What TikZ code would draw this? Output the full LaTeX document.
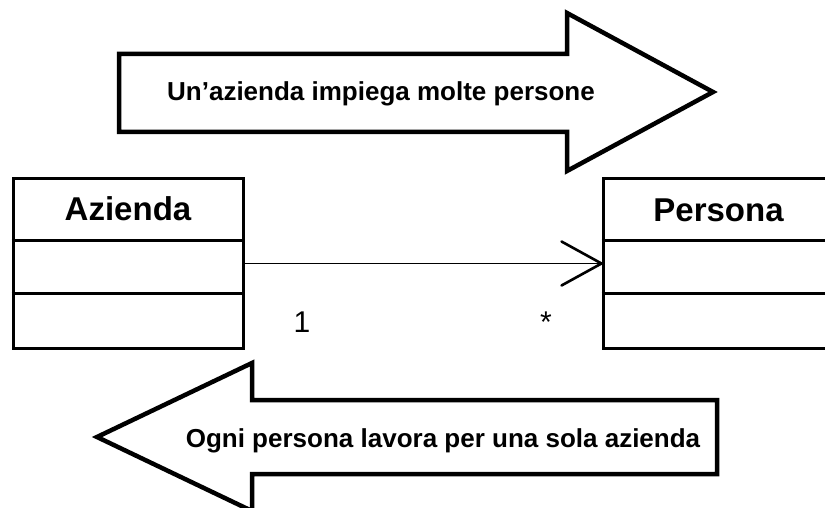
\documentclass[tikz,border=0pt]{standalone}
\usepackage{fontspec}
\setmainfont{Liberation Sans}
\begin{document}
\begin{tikzpicture}[x=1pt,y=-1pt,
  bigarrow/.style={draw=black,line width=4.5pt,fill=white,line join=miter},
  umlbox/.style={draw=black,line width=3pt,fill=white,inner sep=0pt},
  divider/.style={draw=black,line width=3pt},
  conn/.style={draw=black,line width=1.6pt},
  headline/.style={draw=black,line width=2.6pt,line cap=round,line join=miter},
  arrowtext/.style={font=\fontsize{26}{31}\selectfont\bfseries,inner sep=0pt,anchor=base},
  classname/.style={font=\fontsize{33}{40}\selectfont\bfseries,inner sep=0pt,anchor=base},
  mult/.style={font=\fontsize{30}{36}\selectfont,inner sep=0pt,anchor=base}]
\clip (0,0) rectangle (825,508);
\fill[white] (0,0) rectangle (825,508);
% top arrow
\draw[bigarrow] (119,54) -- (567,54) -- (567,13) -- (713,92) -- (567,171) -- (567,132) -- (119,132) -- cycle;
\node[arrowtext] (toptext) at (381,101) {Un’azienda impiega molte persone};
% bottom arrow
\draw[bigarrow] (97,437) -- (252,363) -- (252,400) -- (717,400) -- (717,474) -- (252,474) -- (252,511) -- cycle;
\node[arrowtext] (bottext) at (443,447) {Ogni persona lavora per una sola azienda};
% classes
\node[umlbox,minimum width=230pt,minimum height=169pt] (az) at (128,263.5) {};
\node[umlbox,minimum width=231pt,minimum height=169pt] (pe) at (718.5,263.5) {};
\draw[divider] (az.west |- 0,240) -- (az.east |- 0,240);
\draw[divider] (az.west |- 0,293) -- (az.east |- 0,293);
\draw[divider] (pe.west |- 0,240) -- (pe.east |- 0,240);
\draw[divider] (pe.west |- 0,293) -- (pe.east |- 0,293);
\node[classname] (azname) at (128,220) {Azienda};
\node[classname] (pename) at (718.5,222) {Persona};
% association
\draw[conn] (az) -- (pe);
\draw[headline] ([shift={(-40,-22)}]pe.west) -- (pe.west) -- ([shift={(-40,22)}]pe.west);
\node[mult] (m1) at (302,332) {1};
\node[mult] (m2) at (546,332) {*};
\end{tikzpicture}
\end{document}
